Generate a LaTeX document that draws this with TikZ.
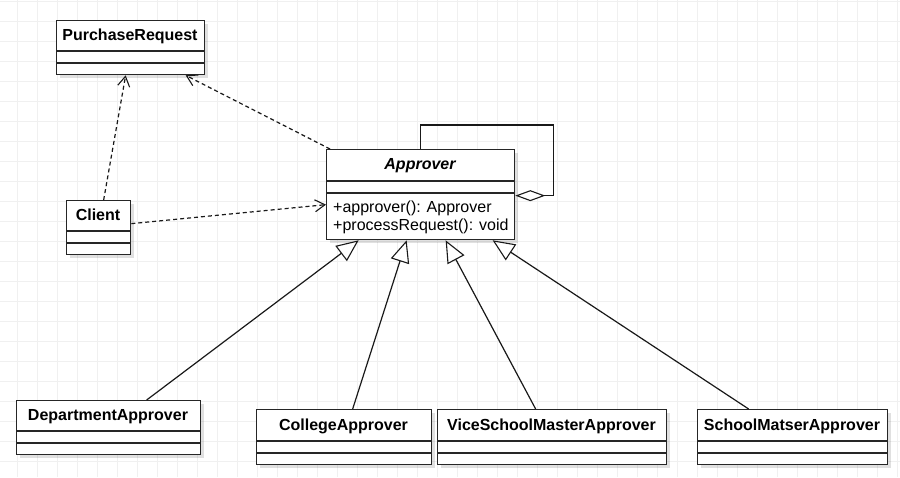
\documentclass[tikz,border=0pt]{standalone}
\usepackage{fontspec}
\setmainfont{Liberation Sans}
\usetikzlibrary{arrows.meta,shadows,calc}
\begin{document}
\begin{tikzpicture}[x=1pt,y=-1pt,
  gridline/.style={draw=black!6, line width=0.9pt},
  cls/.style={draw=black!85, line width=1.3pt, fill=white, anchor=north west, inner sep=0pt,
    drop shadow={shadow xshift=3pt,shadow yshift=-3pt,fill=black,opacity=0.12}},
  sep/.style={draw=black!85, line width=1.3pt},
  cname/.style={font=\fontsize{16}{19}\selectfont\bfseries, inner sep=0pt, anchor=base},
  member/.style={font=\fontsize{16}{19}\selectfont, inner sep=0pt, anchor=base west},
  dep/.style={draw=black!90, line width=1.2pt, dash pattern=on 4pt off 3pt,
    -{Straight Barb[length=10pt,width=12pt,line width=1.1pt]}},
  inh/.style={draw=black!90, line width=1.2pt, -{Triangle[open,fill=white,length=22pt,width=19pt,line width=1.1pt]}},
  agg/.style={draw=black!90, line width=1.2pt, {Diamond[open,fill=white,length=30pt,width=11pt,line width=1.1pt]}-}
]
\useasboundingbox (0,0) rectangle (900,477);
\fill[white] (0,0) rectangle (900,477);
\foreach \gx in {17,37,...,897} \draw[gridline] (\gx,0) -- (\gx,477);
\foreach \gy in {1,21,...,477} \draw[gridline] (0,\gy) -- (900,\gy);

% PurchaseRequest
\node[cls, minimum width=148pt, minimum height=54pt] (pr) at (56,20) {};
\draw[sep] (56,51) -- (204,51);
\draw[sep] (56,63) -- (204,63);
\node[cname] (prt) at (130,40.3) {PurchaseRequest};

% Client
\node[cls, minimum width=64pt, minimum height=54pt] (cl) at (66,200) {};
\draw[sep] (66,231) -- (130,231);
\draw[sep] (66,243) -- (130,243);
\node[cname] (clt) at (98,220.3) {Client};

% Approver
\node[cls, minimum width=188pt, minimum height=90pt] (ap) at (326,149) {};
\draw[sep] (326,181) -- (514,181);
\draw[sep] (326,193) -- (514,193);
\node[cname, font=\fontsize{16}{19}\selectfont\bfseries\itshape] (apt) at (420,169.5) {Approver};
\node[member] (apm1) at (333,212) {+approver(): Approver};
\node[member] (apm2) at (333,230) {+processRequest(): void};

% DepartmentApprover
\node[cls, minimum width=184pt, minimum height=54pt] (dp) at (16,400) {};
\draw[sep] (16,431) -- (200,431);
\draw[sep] (16,443) -- (200,443);
\node[cname] (dpt) at (108,420.3) {DepartmentApprover};

% CollegeApprover
\node[cls, minimum width=175pt, minimum height=55pt] (co) at (256,409) {};
\draw[sep] (256,441) -- (431,441);
\draw[sep] (256,453) -- (431,453);
\node[cname] (cot) at (343.5,430) {CollegeApprover};

% ViceSchoolMasterApprover
\node[cls, minimum width=229pt, minimum height=55pt] (vs) at (437,409) {};
\draw[sep] (437,441) -- (666,441);
\draw[sep] (437,453) -- (666,453);
\node[cname] (vst) at (551.5,430) {ViceSchoolMasterApprover};

% SchoolMatserApprover
\node[cls, minimum width=190pt, minimum height=55pt] (sm) at (697,409) {};
\draw[sep] (697,441) -- (887,441);
\draw[sep] (697,453) -- (887,453);
\node[cname] (smt) at (792,430) {SchoolMatserApprover};

% dependencies
\draw[dep] ([xshift=5pt]cl.north) -- ([xshift=-5pt]pr.south);
\draw[dep] ([xshift=4pt]ap.north west) -- ([xshift=55pt]pr.south);
\draw[dep] ([yshift=4pt]cl.east) -- ([yshift=-10pt]ap.west);

% inheritance
\draw[inh] ([xshift=38pt]dp.north) -- ([xshift=-62pt]ap.south);
\draw[inh] ([xshift=8.5pt]co.north) -- ([xshift=-14pt]ap.south);
\draw[inh] ([xshift=-16.5pt]vs.north) -- ([xshift=25pt]ap.south);
\draw[inh] ([xshift=-44pt]sm.north) -- ([xshift=72pt]ap.south);

% self aggregation
\coordinate (loopc) at ($(ap.north east)+(38,-24)$);
\draw[agg] ([yshift=-1pt]ap.east) -| (loopc) -| (ap.north);
\end{tikzpicture}
\end{document}
